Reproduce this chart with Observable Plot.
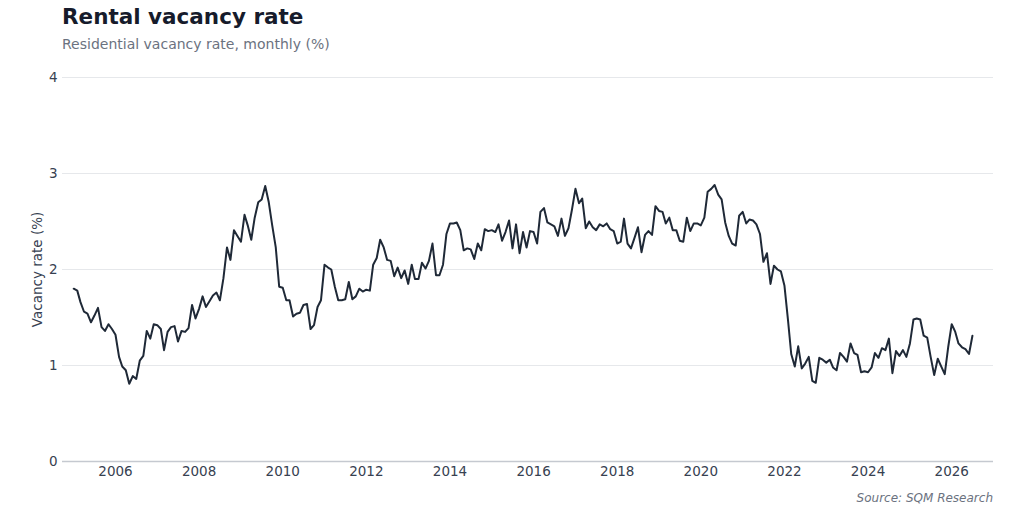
<!DOCTYPE html>
<html>
<head>
<meta charset="utf-8">
<script src="https://cdn.jsdelivr.net/npm/d3@7"></script>
<script src="https://cdn.jsdelivr.net/npm/@observablehq/plot@0.6"></script>
<style>
  html, body { margin: 0; padding: 0; background: #ffffff; }
  #page { position: relative; width: 1024px; height: 512px; font-family: "DejaVu Sans", sans-serif; }
  #title { position: absolute; left: 62px; top: 3.5px; font-size: 21.5px; line-height: 26px; font-weight: bold; color: #161b2b; white-space: nowrap; }
  #subtitle { position: absolute; left: 62px; top: 35px; font-size: 14px; line-height: 18px; color: #6b7280; white-space: nowrap; }
  #chart { position: absolute; left: 0; top: 60px; }
  #caption { position: absolute; right: 31px; top: 490.5px; font-size: 12px; line-height: 14px; font-style: italic; color: #6b7280; white-space: nowrap; }
</style>
</head>
<body>
<div id="page">
  <div id="title">Rental vacancy rate</div>
  <div id="subtitle">Residential vacancy rate, monthly (%)</div>
  <div id="chart"></div>
  <div id="caption">Source: SQM Research</div>
</div>
<script>
// Monthly residential vacancy rate (%), one array per year, starting January
const years = [2005, 2006, 2007, 2008, 2009, 2010, 2011, 2012, 2013, 2014, 2015,
               2016, 2017, 2018, 2019, 2020, 2021, 2022, 2023, 2024, 2025, 2026];
const vacancyByYear = [
  [1.80, 1.78, 1.66, 1.56, 1.54, 1.45, 1.52, 1.60, 1.40, 1.36, 1.43, 1.38], // 2005
  [1.32, 1.09, 0.99, 0.95, 0.81, 0.89, 0.86, 1.05, 1.10, 1.36, 1.28, 1.43], // 2006
  [1.42, 1.38, 1.16, 1.35, 1.40, 1.41, 1.25, 1.36, 1.35, 1.39, 1.63, 1.49], // 2007
  [1.59, 1.72, 1.61, 1.67, 1.73, 1.76, 1.68, 1.91, 2.23, 2.10, 2.41, 2.35], // 2008
  [2.29, 2.57, 2.46, 2.31, 2.54, 2.70, 2.73, 2.87, 2.70, 2.46, 2.23, 1.82], // 2009
  [1.81, 1.68, 1.68, 1.51, 1.54, 1.55, 1.63, 1.64, 1.38, 1.42, 1.61, 1.68], // 2010
  [2.05, 2.02, 2.00, 1.82, 1.68, 1.68, 1.69, 1.87, 1.69, 1.72, 1.80, 1.77], // 2011
  [1.79, 1.78, 2.05, 2.12, 2.31, 2.23, 2.10, 2.09, 1.93, 2.02, 1.91, 1.99], // 2012
  [1.85, 2.05, 1.90, 1.90, 2.07, 2.01, 2.09, 2.27, 1.94, 1.94, 2.05, 2.37], // 2013
  [2.48, 2.48, 2.49, 2.41, 2.20, 2.22, 2.21, 2.11, 2.27, 2.20, 2.42, 2.40], // 2014
  [2.41, 2.39, 2.47, 2.30, 2.39, 2.51, 2.22, 2.47, 2.17, 2.39, 2.23, 2.40], // 2015
  [2.39, 2.27, 2.60, 2.64, 2.49, 2.47, 2.45, 2.35, 2.53, 2.35, 2.43, 2.62], // 2016
  [2.84, 2.69, 2.74, 2.43, 2.50, 2.44, 2.41, 2.47, 2.45, 2.48, 2.42, 2.40], // 2017
  [2.27, 2.29, 2.53, 2.27, 2.22, 2.33, 2.44, 2.18, 2.36, 2.40, 2.36, 2.66], // 2018
  [2.61, 2.60, 2.48, 2.54, 2.41, 2.41, 2.30, 2.29, 2.54, 2.40, 2.48, 2.48], // 2019
  [2.46, 2.54, 2.81, 2.84, 2.88, 2.78, 2.73, 2.49, 2.35, 2.27, 2.25, 2.56], // 2020
  [2.60, 2.48, 2.52, 2.51, 2.47, 2.37, 2.08, 2.17, 1.85, 2.04, 2.00, 1.98], // 2021
  [1.83, 1.47, 1.12, 0.99, 1.20, 0.97, 1.02, 1.09, 0.84, 0.82, 1.08, 1.06], // 2022
  [1.03, 1.06, 0.98, 0.95, 1.13, 1.09, 1.04, 1.23, 1.13, 1.11, 0.93, 0.94], // 2023
  [0.93, 0.98, 1.13, 1.08, 1.18, 1.16, 1.28, 0.92, 1.15, 1.10, 1.16, 1.09], // 2024
  [1.23, 1.48, 1.49, 1.48, 1.31, 1.29, 1.09, 0.90, 1.07, 0.99, 0.91, 1.19], // 2025
  [1.43, 1.35, 1.23, 1.19, 1.17, 1.12, 1.31]                                // 2026
];
const xTickYears = [2006, 2008, 2010, 2012, 2014, 2016, 2018, 2020, 2022, 2024, 2026];
const yTicks = [0, 1, 2, 3, 4];

const data = [];
years.forEach((yr, i) => {
  vacancyByYear[i].forEach((v, m) => data.push({date: new Date(Date.UTC(yr, m, 1)), value: v}));
});

const chart = Plot.plot({
  width: 1024,
  height: 431,
  marginTop: 17,
  marginBottom: 30,
  marginLeft: 62,
  marginRight: 31,
  style: {fontFamily: "DejaVu Sans, sans-serif", fontSize: "13.5px", color: "#374151", background: "transparent"},
  x: {type: "utc", domain: [new Date(Date.UTC(2004, 8, 25)), new Date(Date.UTC(2027, 0, 1))]},
  y: {domain: [0, 4]},
  marks: [
    Plot.gridY(yTicks.filter(d => d > 0), {stroke: "#e6e8eb", strokeOpacity: 1, strokeWidth: 1}),
    Plot.ruleY([0], {stroke: "#c5c9d0", strokeWidth: 1.5}),
    Plot.axisX(xTickYears.map(y => new Date(Date.UTC(y, 0, 1))), {tickSize: 0, tickPadding: 5, tickFormat: d3.utcFormat("%Y"), label: null, fill: "#374151", fontSize: 13.5}),
    Plot.axisY(yTicks, {tickSize: 0, tickPadding: 5, tickFormat: d => String(d), label: "Vacancy rate (%)", labelAnchor: "center", labelArrow: "none", labelOffset: 30, fill: "#374151", fontSize: 13.5}),
    Plot.lineY(data, {x: "date", y: "value", stroke: "#1f2937", strokeWidth: 2, curve: "linear"})
  ]
});
document.getElementById("chart").appendChild(chart);
</script>
</body>
</html>
